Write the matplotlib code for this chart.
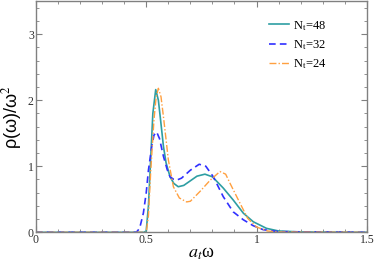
import matplotlib
matplotlib.use("Agg")
import matplotlib.pyplot as plt
from matplotlib.ticker import MultipleLocator

plt.rcParams['font.family'] = ['Liberation Serif', 'DejaVu Serif']
plt.rcParams['mathtext.fontset'] = 'stix'

# N_t = 48
w48 = [0, 0.49, 0.50, 0.51, 0.52, 0.53, 0.543, 0.555, 0.565, 0.578, 0.59, 0.608,
       0.625, 0.645, 0.67, 0.70, 0.73, 0.766, 0.80, 0.849, 0.894, 0.94, 0.985,
       1.045, 1.1, 1.2, 1.5]
r48 = [0, 0, 0.02, 0.4, 1.1, 1.8, 2.16, 2.0, 1.7, 1.3, 1.05, 0.84,
       0.74, 0.69, 0.71, 0.78, 0.85, 0.88, 0.84, 0.67, 0.49, 0.29, 0.16,
       0.06, 0.02, 0.005, 0]

# N_t = 32
w32 = [0, 0.455, 0.47, 0.487, 0.50, 0.51, 0.525, 0.535, 0.547, 0.56, 0.578, 0.595,
       0.608, 0.625, 0.638, 0.66, 0.70, 0.74, 0.77, 0.804, 0.849, 0.894, 0.94,
       0.985, 1.03, 1.1, 1.5]
r32 = [0, 0, 0.06, 0.29, 0.6, 0.94, 1.3, 1.47, 1.52, 1.42, 1.15, 0.95,
       0.84, 0.8, 0.79, 0.82, 0.94, 1.03, 1.0, 0.84, 0.54, 0.31, 0.19,
       0.1, 0.04, 0.01, 0]

# N_t = 24
w24 = [0, 0.50, 0.51, 0.52, 0.535, 0.545, 0.555, 0.567, 0.578, 0.59, 0.60, 0.623,
       0.65, 0.683, 0.70, 0.744, 0.79, 0.834, 0.86, 0.88, 0.925, 0.96, 1.0,
       1.05, 1.1, 1.5]
r24 = [0, 0, 0.25, 0.9, 1.7, 2.05, 2.18, 2.05, 1.75, 1.4, 1.1, 0.69,
       0.52, 0.46, 0.47, 0.62, 0.79, 0.92, 0.88, 0.74, 0.44, 0.21, 0.08,
       0.02, 0.005, 0]

fig = plt.figure(figsize=(3.74, 2.64), dpi=100)
ax = fig.add_axes([0.096, 0.12, 0.885, 0.876])

ax.plot(w48, r48, color='#2e9ea3', lw=1.2, label=r'N$_\mathrm{t}$=48')
ax.plot(w32, r32, color='#3030ff', lw=1.2, ls=(0, (4, 2.5)), label=r'N$_\mathrm{t}$=32')
ax.plot(w24, r24, color='#ffa040', lw=1.0, ls=(0, (5, 1.5, 1, 1.5)), label=r'N$_\mathrm{t}$=24')

ax.set_xlim(0, 1.5)
ax.set_ylim(0, 3.5)
ax.xaxis.set_major_locator(MultipleLocator(0.5))
ax.xaxis.set_minor_locator(MultipleLocator(0.1))
ax.yaxis.set_major_locator(MultipleLocator(1))
ax.yaxis.set_minor_locator(MultipleLocator(0.2))
ax.set_xticks([0, 0.5, 1, 1.5])
ax.set_xticklabels(['0', '0.5', '1', '1.5'])

for s in ax.spines.values():
    s.set_color('#808080')
    s.set_linewidth(1.0)
ax.tick_params(which='both', direction='in', top=True, right=True, color='#808080',
               labelsize=8.5, labelcolor='#303030', pad=1.5)
ax.tick_params(which='major', length=4)
ax.tick_params(which='minor', length=2.5)

ax.set_xlabel(r'$a_t$ω', fontsize=13, labelpad=-1)
ax.set_ylabel('ρ(ω)/ω$^2$', fontsize=13, family=['Liberation Sans', 'DejaVu Sans'], labelpad=3)

ax.legend(loc='upper left', bbox_to_anchor=(0.69, 0.945), frameon=False, fontsize=9,
          handlelength=1.6, handletextpad=0.3, labelspacing=0.45, borderaxespad=0)

fig.savefig('out.png', dpi=100)
